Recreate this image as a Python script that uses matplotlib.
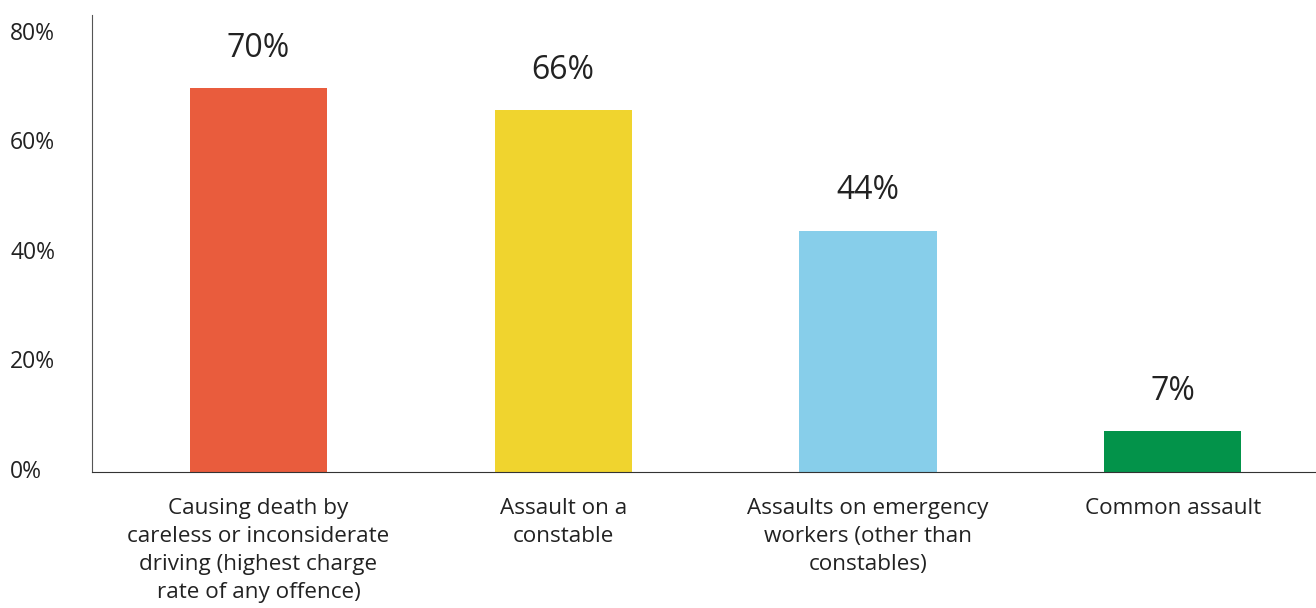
import matplotlib.pyplot as plt
import numpy as np

plt.rcParams["font.family"] = ["Open Sans", "DejaVu Sans"]

categories = [
    "Causing death by\ncareless or inconsiderate\ndriving (highest charge\nrate of any offence)",
    "Assault on a\nconstable",
    "Assaults on emergency\nworkers (other than\nconstables)",
    "Common assault",
]
rates = [70, 66, 44, 7.4]
colors = ["#E95C3D", "#F0D42E", "#87CEEA", "#03934A"]

fig = plt.figure(figsize=(13.16, 6.08), dpi=100)
ax = fig.add_axes([0.0699, 0.2237, 0.9301, 0.7516])

x = np.arange(len(categories))
ax.bar(x, rates, width=0.45, color=colors, zorder=2)

for xi, v in zip(x, rates):
    ax.text(xi, v + 7.3, f"{v:.0f}%", ha="center", va="center",
            fontsize=23, color="#222222")

ax.set_xlim(-0.546, 3.47)
ax.set_ylim(0, 83.4)
ax.set_yticks([0, 20, 40, 60, 80])
ax.set_yticklabels(["0%", "20%", "40%", "60%", "80%"])
ax.set_xticks(x)
ax.set_xticklabels(categories, linespacing=1.44)

ax.tick_params(axis="y", length=0, pad=59, labelsize=16.5, labelcolor="#222222")
ax.tick_params(axis="x", length=0, pad=19, labelsize=16.2, labelcolor="#222222")
for lab in ax.get_yticklabels():
    lab.set_verticalalignment("center")
    lab.set_horizontalalignment("left")
for lab in ax.get_xticklabels():
    lab.set_verticalalignment("top")

ax.spines["top"].set_visible(False)
ax.spines["right"].set_visible(False)
ax.spines["left"].set_color("#555555")
ax.spines["bottom"].set_color("#333333")

plt.savefig("out.png", dpi=100)
